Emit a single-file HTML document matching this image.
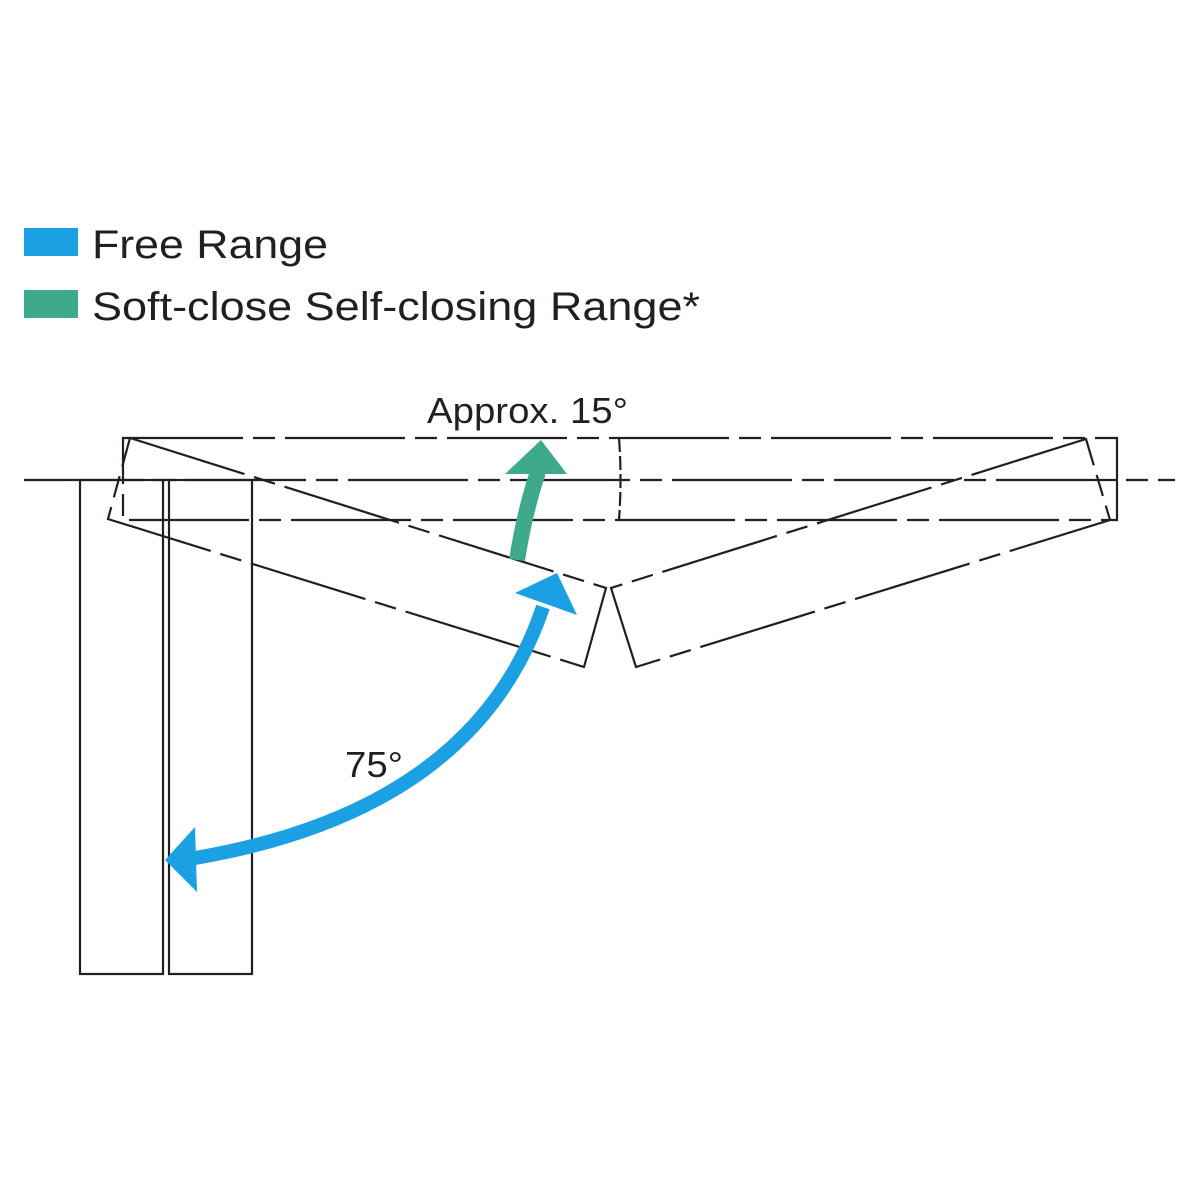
<!DOCTYPE html>
<html><head><meta charset="utf-8"><style>
html,body{margin:0;padding:0;background:#fff;}
svg{display:block;}
text{font-family:"Liberation Sans",sans-serif;fill:#231f20;}
</style></head><body>
<svg width="1200" height="1200" viewBox="0 0 1200 1200" xmlns="http://www.w3.org/2000/svg">
<rect x="24" y="228" width="54" height="28" fill="#1aa0e3"/>
<rect x="24" y="290" width="54" height="28" fill="#3fa98c"/>
<text x="92" y="258" font-size="40" textLength="236" lengthAdjust="spacingAndGlyphs">Free Range</text>
<text x="92" y="320" font-size="40" textLength="608" lengthAdjust="spacingAndGlyphs">Soft-close Self-closing Range*</text>
<text x="427" y="423" font-size="36" textLength="201" lengthAdjust="spacingAndGlyphs">Approx. 15°</text>
<text x="345" y="777" font-size="36" textLength="58" lengthAdjust="spacingAndGlyphs">75°</text>
<g stroke="#231f20" stroke-width="2.2" fill="none">
<path d="M123 438 H1117 V520 H123 Z" stroke-dasharray="120 10 22 10"/>
<path d="M619 438 Q622 479 619 520" stroke-dasharray="14 4"/>
<line x1="24" y1="480" x2="1175" y2="480" stroke-dasharray="120 10 22 10"/>
<path d="M130 438 L606 588 L584 667 L108 519 Z" stroke-dasharray="120 10 22 10"/>
<path d="M1086 439 L611 588 L636 667 L1110 520 Z" stroke-dasharray="120 10 22 10"/>
<rect x="80" y="480" width="83" height="494"/>
<rect x="169" y="480" width="83" height="494"/>
</g>
<path d="M517 560 Q525 510 538 472" stroke="#3fa98c" stroke-width="16" fill="none"/>
<polygon points="541,440 567,474 505,474" fill="#3fa98c"/>
<path d="M543 607 Q475 810 195 858" stroke="#1aa0e3" stroke-width="14" fill="none"/>
<polygon points="557,573 577,615 515,593" fill="#1aa0e3"/>
<polygon points="165,860 195,827 197,892" fill="#1aa0e3"/>
</svg>
</body></html>
